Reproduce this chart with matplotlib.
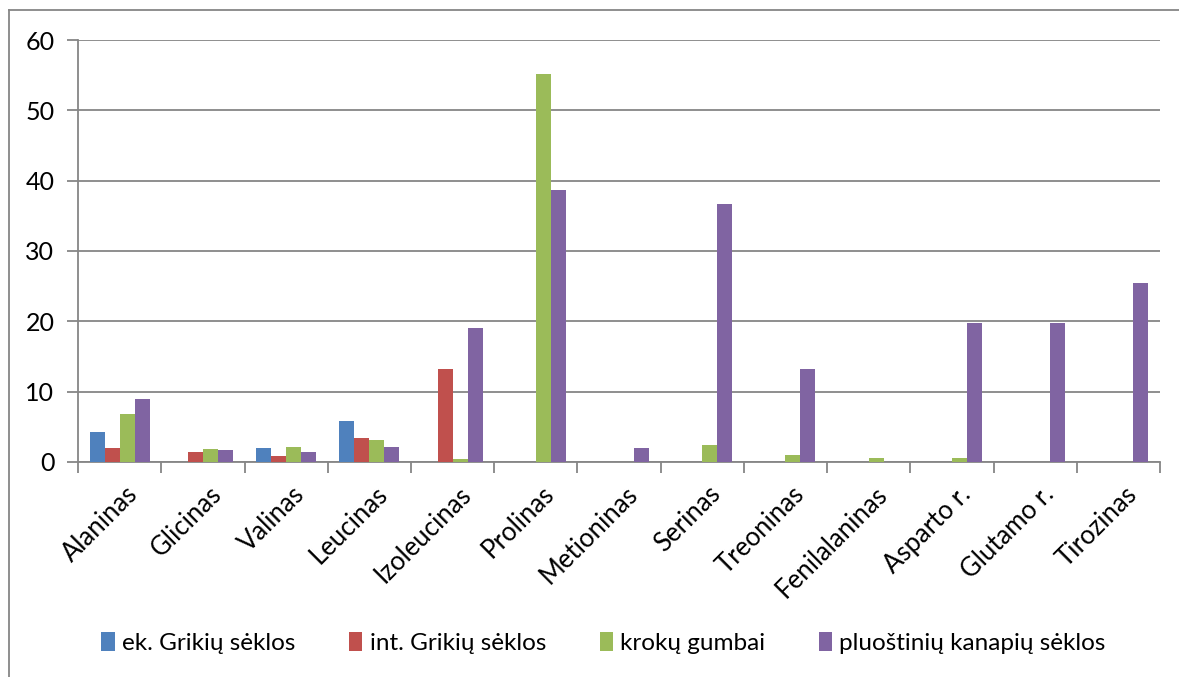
import numpy as np
import matplotlib.pyplot as plt
from matplotlib.lines import Line2D
from matplotlib.transforms import ScaledTranslation

plt.rcParams['font.family'] = ['Lato', 'DejaVu Sans']

# Aminorūgščių kiekiai (g/100 g baltymų)
aminorugstys = ["Alaninas", "Glicinas", "Valinas", "Leucinas", "Izoleucinas",
                "Prolinas", "Metioninas", "Serinas", "Treoninas", "Fenilalaninas",
                "Asparto r.", "Glutamo r.", "Tirozinas"]
ek_grikiai = [4.3, 0, 2.05, 5.8, 0, 0, 0, 0, 0, 0, 0, 0, 0]
int_grikiai = [1.95, 1.35, 0.9, 3.4, 13.2, 0, 0, 0, 0, 0, 0, 0, 0]
kroku_gumbai = [6.8, 1.8, 2.1, 3.1, 0.4, 55.1, 0, 2.4, 1.0, 0.57, 0.6, 0, 0]
kanapiu_seklos = [8.9, 1.7, 1.45, 2.2, 19.0, 38.7, 1.95, 36.7, 13.2, 0, 19.8, 19.8, 25.4]

serijos = [
    ("ek. Grikių sėklos", ek_grikiai, "#4F81BD"),
    ("int. Grikių sėklos", int_grikiai, "#C0504D"),
    ("krokų gumbai", kroku_gumbai, "#9BBB59"),
    ("pluoštinių kanapių sėklos", kanapiu_seklos, "#8064A2"),
]

fig = plt.figure(figsize=(11.79, 6.77), dpi=100)
ax = fig.add_axes([0.0662, 0.3176, 0.9177, 0.6233])

x = np.arange(len(aminorugstys))
plotis = 0.18
for i, (pav, reiksmes, spalva) in enumerate(serijos):
    ax.bar(x + (i - 1.5) * plotis, reiksmes, plotis, color=spalva, label=pav,
           zorder=3)

pilka = "#868686"
ax.set_xlim(-0.5, len(aminorugstys) - 0.5)
ax.set_ylim(0, 60)
ax.set_yticks(range(0, 61, 10))
ax.yaxis.grid(True, color=pilka, linewidth=1.3, zorder=0)

# kategorijų ribos ant x ašies
ax.set_xticks(np.arange(-0.5, len(aminorugstys), 1.0))
ax.set_xticklabels([])
ax.set_xticks(x, minor=True)
ax.set_xticklabels(aminorugstys, minor=True, rotation=45, ha="right",
                   va="top", rotation_mode="anchor", fontsize=18.5)
ax.tick_params(axis="x", which="minor", length=0, pad=14)
ax.tick_params(axis="x", which="major", length=8, color=pilka, width=1.3)
ax.tick_params(axis="y", length=8, color=pilka, width=1.3, pad=9,
               labelsize=18)

# pavadinimus šiek tiek paslinkti į dešinę
poslinkis = ScaledTranslation(6 / 100, 0, fig.dpi_scale_trans)
for lbl in ax.get_xticklabels(minor=True):
    lbl.set_transform(lbl.get_transform() + poslinkis)

for s in ["top", "right"]:
    ax.spines[s].set_visible(False)
for s in ["left", "bottom"]:
    ax.spines[s].set_color(pilka)
    ax.spines[s].set_linewidth(1.3)

# rėmelis aplink diagramą
fig.add_artist(Line2D([9 / 1179, 9 / 1179], [0, 1 - 10 / 677],
                      transform=fig.transFigure, color=pilka, linewidth=1.3))
fig.add_artist(Line2D([9 / 1179, 1], [1 - 10 / 677, 1 - 10 / 677],
                      transform=fig.transFigure, color=pilka, linewidth=1.3))

fig.legend(loc="center", bbox_to_anchor=(0.512, 1 - 643 / 677), ncol=4,
           frameon=False, fontsize=17.5, handlelength=0.55, handleheight=0.85,
           handletextpad=0.3, columnspacing=2.2)

fig.savefig("out.png", dpi=100)
